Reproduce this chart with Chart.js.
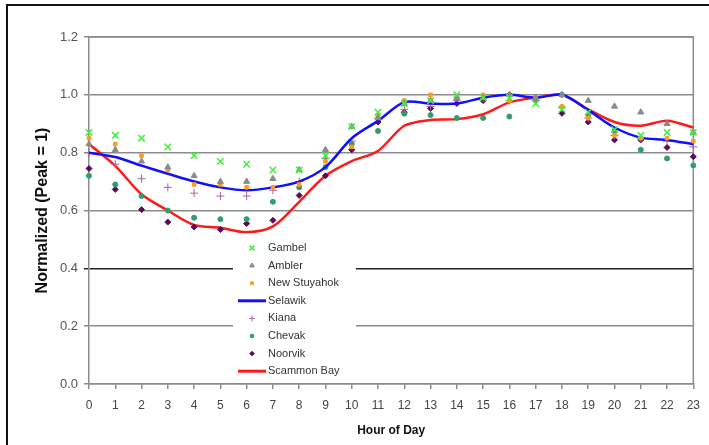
<!DOCTYPE html>
<html>
<head>
<meta charset="utf-8">
<script src="https://cdn.jsdelivr.net/npm/chart.js@4.4.1/dist/chart.umd.min.js"></script>
<style>
  body { margin: 0; background: #fff; }
  #wrap { position: relative; width: 709px; height: 445px; overflow: hidden; background: #fff; }
  #frame { position: absolute; left: 6px; top: 4px; width: 900px; height: 700px; border-top: 2px solid #111; border-left: 2px solid #111; }
  canvas { position: absolute; left: 0; top: 0; }
</style>
</head>
<body>
<div id="wrap">
  <div id="frame"></div>
  <canvas id="loadChart" width="709" height="445"></canvas>
</div>
<script>
const hours = ['0','1','2','3','4','5','6','7','8','9','10','11','12','13','14','15','16','17','18','19','20','21','22','23'];
const yTicks = [0, 0.2, 0.4, 0.6, 0.8, 1.0, 1.2];

const gambel   = [0.87,0.86,0.85,0.82,0.79,0.77,0.76,0.74,0.74,0.79,0.89,0.94,0.97,0.98,1.00,0.99,0.99,0.97,0.95,0.94,0.88,0.86,0.87,0.87];
const ambler   = [0.83,0.81,0.77,0.75,0.72,0.70,0.70,0.71,0.74,0.81,0.89,0.92,0.97,0.98,0.99,0.99,1.00,0.99,1.00,0.98,0.96,0.94,0.90,0.87];
const stuyahok = [0.85,0.83,0.79,0.74,0.69,0.69,0.68,0.68,0.69,0.77,0.82,0.93,0.98,1.00,0.99,1.00,0.98,0.99,0.96,0.92,0.86,0.85,0.85,0.84];
const selawik  = [0.80,0.785,0.755,0.727,0.70,0.68,0.67,0.68,0.70,0.75,0.85,0.91,0.975,0.97,0.97,0.99,1.00,0.99,1.00,0.947,0.887,0.852,0.844,0.829];
const kiana    = [0.80,0.76,0.71,0.68,0.66,0.65,0.65,0.67,0.70,0.78,0.84,0.92,0.95,0.96,0.98,0.99,0.98,0.98,0.955,0.92,0.86,0.85,0.84,0.82];
const chevak   = [0.72,0.69,0.65,0.60,0.575,0.57,0.57,0.63,0.68,0.75,0.83,0.875,0.935,0.93,0.92,0.92,0.925,0.98,1.00,0.93,0.875,0.81,0.78,0.756];
const noorvik  = [0.745,0.673,0.603,0.56,0.543,0.534,0.555,0.566,0.652,0.72,0.81,0.906,0.94,0.953,0.97,0.98,1.00,0.99,0.936,0.906,0.844,0.844,0.818,0.786];
const scammon  = [0.83,0.754,0.656,0.60,0.55,0.54,0.525,0.545,0.63,0.72,0.771,0.806,0.893,0.913,0.916,0.933,0.974,0.99,1.00,0.95,0.906,0.893,0.91,0.887];

function markers(label, data, style, color, radius, width) {
    return {
        label: label,
        data: data,
        showLine: false,
        pointStyle: style,
        pointRadius: radius,
        pointBorderWidth: width,
        pointBorderColor: color,
        pointBackgroundColor: color,
        borderColor: color,
        backgroundColor: color
    };
}

function line(label, data, color) {
    return {
        label: label,
        data: data,
        borderColor: color,
        backgroundColor: color,
        borderWidth: 2.5,
        pointRadius: 0,
        tension: 0.3
    };
}

// legend sits inside the plot, on a white patch over the grid
const insideLegend = {
    id: 'insideLegend',
    afterDatasetsDraw(chart) {
        const ctx = chart.ctx;
        const area = chart.chartArea;
        const x0 = area.left + 144;
        const y0 = area.top + 203;
        ctx.save();
        ctx.fillStyle = '#fff';
        ctx.fillRect(x0, y0, 123, 141);
        ctx.font = '11px "Liberation Sans", Arial, sans-serif';
        ctx.textBaseline = 'middle';
        chart.data.datasets.forEach((ds, i) => {
            const y = y0 + 8 + i * 17.6;
            if (ds.showLine === false) {
                ctx.fillStyle = ds.pointBackgroundColor;
                ctx.strokeStyle = ds.pointBorderColor;
                ctx.lineWidth = ds.pointBorderWidth;
                Chart.helpers.drawPoint(ctx, {
                    pointStyle: ds.pointStyle,
                    radius: ds.pointRadius * 0.75,
                    rotation: 0,
                    borderWidth: ds.pointBorderWidth
                }, x0 + 19, y);
            } else {
                ctx.strokeStyle = ds.borderColor;
                ctx.lineWidth = 3;
                ctx.beginPath();
                ctx.moveTo(x0 + 5, y);
                ctx.lineTo(x0 + 33, y);
                ctx.stroke();
            }
            ctx.fillStyle = '#333';
            ctx.fillText(ds.label, x0 + 35, y);
        });
        ctx.restore();
    }
};

// grey box round the plot
const plotFrame = {
    id: 'plotFrame',
    beforeDatasetsDraw(chart) {
        const ctx = chart.ctx;
        const a = chart.chartArea;
        ctx.save();
        ctx.strokeStyle = '#8c8c8c';
        ctx.lineWidth = 1.5;
        ctx.beginPath();
        ctx.moveTo(a.left, a.top);
        ctx.lineTo(a.right, a.top);
        ctx.lineTo(a.right, a.bottom);
        ctx.stroke();
        ctx.restore();
    }
};

const ctx = document.getElementById('loadChart').getContext('2d');
new Chart(ctx, {
    type: 'line',
    data: {
        labels: hours,
        datasets: [
            markers('Gambel', gambel, 'crossRot', '#3cf03c', 4.5, 1.5),
            markers('Ambler', ambler, 'triangle', '#8a8a8a', 3.5, 1),
            markers('New Stuyahok', stuyahok, 'rect', '#ff9a1a', 2.5, 1),
            line('Selawik', selawik, '#1010ff'),
            markers('Kiana', kiana, 'cross', '#b0609a', 4, 1),
            markers('Chevak', chevak, 'circle', '#2e9e6a', 2.5, 1),
            markers('Noorvik', noorvik, 'rectRot', '#5c0a5c', 3, 1),
            line('Scammon Bay', scammon, '#ff1a1a')
        ]
    },
    options: {
        responsive: false,
        animation: false,
        layout: { padding: { left: 0, top: 37, right: 10, bottom: 0 } },
        plugins: {
            legend: { display: false },
            tooltip: { enabled: false }
        },
        scales: {
            x: {
                afterFit: (scale) => { scale.height = 61; },
                grid: { drawOnChartArea: false, tickLength: 5, color: '#8c8c8c', lineWidth: 1.5 },
                border: { color: '#8c8c8c', width: 1.5 },
                ticks: {
                    padding: 9,
                    maxRotation: 0,
                    autoSkip: false,
                    color: '#444',
                    font: { family: '"Liberation Sans", Arial, sans-serif', size: 12 }
                },
                title: {
                    display: true,
                    text: 'Hour of Day',
                    color: '#111',
                    padding: { top: 7, bottom: 7 },
                    font: { family: '"Liberation Sans", Arial, sans-serif', size: 12, weight: 'bold' }
                }
            },
            y: {
                min: 0,
                max: 1.2,
                afterFit: (scale) => { scale.width = 89; },
                afterBuildTicks: (scale) => { scale.ticks = yTicks.map(v => ({ value: v })); },
                grid: {
                    tickLength: 5,
                    lineWidth: 1.5,
                    color: (c) => c.tick && c.tick.value === 0.4 ? '#222' : '#8c8c8c'
                },
                border: { color: '#8c8c8c', width: 1.5 },
                ticks: {
                    padding: 6,
                    color: '#555',
                    font: { family: '"Liberation Sans", Arial, sans-serif', size: 13 },
                    callback: (v) => Number(v).toFixed(1)
                },
                title: {
                    display: true,
                    text: 'Normalized (Peak = 1)',
                    color: '#111',
                    padding: { top: 33, bottom: 33 },
                    font: { family: '"Liberation Sans", Arial, sans-serif', size: 16, weight: 'bold' }
                }
            }
        }
    },
    plugins: [plotFrame, insideLegend]
});
</script>
</body>
</html>
